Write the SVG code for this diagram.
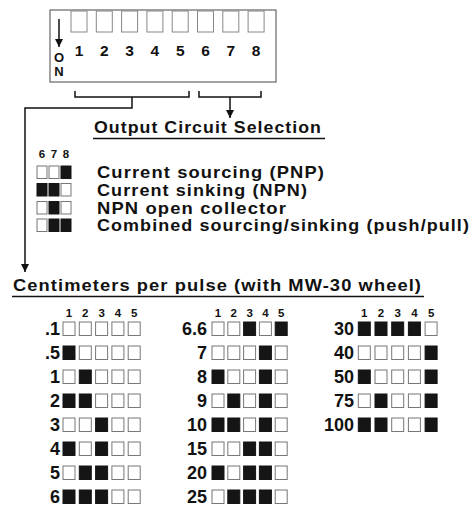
<svg xmlns="http://www.w3.org/2000/svg" width="476" height="511" viewBox="0 0 476 511">
<style>
text{font-family:"Liberation Sans",Arial,Helvetica,sans-serif;fill:#111}
.ln{stroke:#111;stroke-width:1.5;fill:none}
.sw{fill:#fff;stroke:#888;stroke-width:1}
.frame{fill:#fff;stroke:#666;stroke-width:1.2}
.on{fill:#151515;stroke:#151515;stroke-width:1}
.off{fill:#fff;stroke:#777;stroke-width:1}
.num{font-size:15.5px;font-weight:bold}
.on-lbl{font-size:13px;font-weight:bold;text-anchor:middle}
.title{font-size:17px;font-weight:bold;letter-spacing:1px}
.opt{font-size:16.5px;font-weight:bold;letter-spacing:1px}
.hdr{font-size:11.5px;font-weight:bold;text-anchor:middle}
.val{font-size:18px;font-weight:bold;text-anchor:end}
</style>
<defs>
<marker id="ah" viewBox="0 0 10 10" refX="10" refY="5" markerWidth="9" markerHeight="8" markerUnits="userSpaceOnUse" orient="auto">
<path d="M0,0 L10,5 L0,10 z" fill="#111"/>
</marker>
</defs>

<g id="dip-switch">
<rect class="frame" x="50" y="10" width="226" height="72"/>
<rect class="sw" x="71" y="11" width="16" height="21"/>
<rect class="sw" x="96.3" y="11" width="16" height="21"/>
<rect class="sw" x="121.6" y="11" width="16" height="21"/>
<rect class="sw" x="146.9" y="11" width="16" height="21"/>
<rect class="sw" x="172.2" y="11" width="16" height="21"/>
<rect class="sw" x="197.5" y="11" width="16" height="21"/>
<rect class="sw" x="222.8" y="11" width="16" height="21"/>
<rect class="sw" x="248.1" y="11" width="16" height="21"/>
<g class="num" text-anchor="middle">
<text x="79" y="56">1</text>
<text x="104.3" y="56">2</text>
<text x="129.6" y="56">3</text>
<text x="154.9" y="56">4</text>
<text x="180.2" y="56">5</text>
<text x="205.5" y="56">6</text>
<text x="230.8" y="56">7</text>
<text x="256.1" y="56">8</text>
</g>
<line class="ln" x1="59" y1="19" x2="59" y2="47" marker-end="url(#ah)"/>
<text class="on-lbl" x="59" y="62">O</text>
<text class="on-lbl" x="59" y="76">N</text>
</g>

<g id="connectors">
<path class="ln" d="M75,91 V97 H189 V91"/>
<path class="ln" d="M132,97 V108 H25 V272" marker-end="url(#ah)"/>
<path class="ln" d="M199,91 V97 H261 V91"/>
<path class="ln" d="M230,97 V118" marker-end="url(#ah)"/>
</g>

<g id="output-title">
<text class="title" x="94" y="133" textLength="228" lengthAdjust="spacingAndGlyphs">Output Circuit Selection</text>
<line class="ln" x1="93" y1="138.5" x2="325" y2="138.5" stroke-width="1.2"/>
</g>

<g id="output-options">
<text class="hdr" x="42" y="157.5">6</text>
<text class="hdr" x="54" y="157.5">7</text>
<text class="hdr" x="66" y="157.5">8</text>
<rect class="off" x="37" y="166" width="10" height="12.5"/><rect class="off" x="49" y="166" width="10" height="12.5"/><rect class="on" x="61" y="166" width="10" height="12.5"/>
<text class="opt" x="97" y="178" textLength="228" lengthAdjust="spacingAndGlyphs">Current sourcing (PNP)</text>
<rect class="on" x="37" y="183.5" width="10" height="12.5"/><rect class="on" x="49" y="183.5" width="10" height="12.5"/><rect class="off" x="61" y="183.5" width="10" height="12.5"/>
<text class="opt" x="97" y="195.5" textLength="211" lengthAdjust="spacingAndGlyphs">Current sinking (NPN)</text>
<rect class="off" x="37" y="201.5" width="10" height="12.5"/><rect class="on" x="49" y="201.5" width="10" height="12.5"/><rect class="off" x="61" y="201.5" width="10" height="12.5"/>
<text class="opt" x="97" y="213.5" textLength="190" lengthAdjust="spacingAndGlyphs">NPN open collector</text>
<rect class="off" x="37" y="219" width="10" height="12.5"/><rect class="on" x="49" y="219" width="10" height="12.5"/><rect class="on" x="61" y="219" width="10" height="12.5"/>
<text class="opt" x="97" y="231" textLength="373" lengthAdjust="spacingAndGlyphs">Combined sourcing/sinking (push/pull)</text>
</g>

<g id="cm-title">
<text class="title" x="13" y="291" textLength="409" lengthAdjust="spacingAndGlyphs">Centimeters per pulse (with MW-30 wheel)</text>
<line class="ln" x1="12" y1="296.5" x2="424" y2="296.5" stroke-width="1.2"/>
</g>

<g id="table-1">
<text class="hdr" x="69" y="317">1</text><text class="hdr" x="85.3" y="317">2</text><text class="hdr" x="101.6" y="317">3</text><text class="hdr" x="117.9" y="317">4</text><text class="hdr" x="134.2" y="317">5</text>
<text class="val" x="60" y="335">.1</text>
<rect class="off" x="63" y="322" width="12" height="13.5"/><rect class="off" x="79.3" y="322" width="12" height="13.5"/><rect class="off" x="95.6" y="322" width="12" height="13.5"/><rect class="off" x="111.9" y="322" width="12" height="13.5"/><rect class="off" x="128.2" y="322" width="12" height="13.5"/>
<text class="val" x="60" y="359">.5</text>
<rect class="on" x="63" y="346" width="12" height="13.5"/><rect class="off" x="79.3" y="346" width="12" height="13.5"/><rect class="off" x="95.6" y="346" width="12" height="13.5"/><rect class="off" x="111.9" y="346" width="12" height="13.5"/><rect class="off" x="128.2" y="346" width="12" height="13.5"/>
<text class="val" x="60" y="383">1</text>
<rect class="off" x="63" y="370" width="12" height="13.5"/><rect class="on" x="79.3" y="370" width="12" height="13.5"/><rect class="off" x="95.6" y="370" width="12" height="13.5"/><rect class="off" x="111.9" y="370" width="12" height="13.5"/><rect class="off" x="128.2" y="370" width="12" height="13.5"/>
<text class="val" x="60" y="407">2</text>
<rect class="on" x="63" y="394" width="12" height="13.5"/><rect class="on" x="79.3" y="394" width="12" height="13.5"/><rect class="off" x="95.6" y="394" width="12" height="13.5"/><rect class="off" x="111.9" y="394" width="12" height="13.5"/><rect class="off" x="128.2" y="394" width="12" height="13.5"/>
<text class="val" x="60" y="431">3</text>
<rect class="off" x="63" y="418" width="12" height="13.5"/><rect class="off" x="79.3" y="418" width="12" height="13.5"/><rect class="on" x="95.6" y="418" width="12" height="13.5"/><rect class="off" x="111.9" y="418" width="12" height="13.5"/><rect class="off" x="128.2" y="418" width="12" height="13.5"/>
<text class="val" x="60" y="455">4</text>
<rect class="on" x="63" y="442" width="12" height="13.5"/><rect class="off" x="79.3" y="442" width="12" height="13.5"/><rect class="on" x="95.6" y="442" width="12" height="13.5"/><rect class="off" x="111.9" y="442" width="12" height="13.5"/><rect class="off" x="128.2" y="442" width="12" height="13.5"/>
<text class="val" x="60" y="479">5</text>
<rect class="off" x="63" y="466" width="12" height="13.5"/><rect class="on" x="79.3" y="466" width="12" height="13.5"/><rect class="on" x="95.6" y="466" width="12" height="13.5"/><rect class="off" x="111.9" y="466" width="12" height="13.5"/><rect class="off" x="128.2" y="466" width="12" height="13.5"/>
<text class="val" x="60" y="503">6</text>
<rect class="on" x="63" y="490" width="12" height="13.5"/><rect class="on" x="79.3" y="490" width="12" height="13.5"/><rect class="on" x="95.6" y="490" width="12" height="13.5"/><rect class="off" x="111.9" y="490" width="12" height="13.5"/><rect class="off" x="128.2" y="490" width="12" height="13.5"/>
</g>

<g id="table-2">
<text class="hdr" x="218" y="317">1</text><text class="hdr" x="233.8" y="317">2</text><text class="hdr" x="249.6" y="317">3</text><text class="hdr" x="265.4" y="317">4</text><text class="hdr" x="281.2" y="317">5</text>
<text class="val" x="207" y="335">6.6</text>
<rect class="off" x="212" y="322" width="12" height="13.5"/><rect class="off" x="227.8" y="322" width="12" height="13.5"/><rect class="on" x="243.6" y="322" width="12" height="13.5"/><rect class="off" x="259.4" y="322" width="12" height="13.5"/><rect class="on" x="275.2" y="322" width="12" height="13.5"/>
<text class="val" x="207" y="359">7</text>
<rect class="off" x="212" y="346" width="12" height="13.5"/><rect class="off" x="227.8" y="346" width="12" height="13.5"/><rect class="off" x="243.6" y="346" width="12" height="13.5"/><rect class="on" x="259.4" y="346" width="12" height="13.5"/><rect class="off" x="275.2" y="346" width="12" height="13.5"/>
<text class="val" x="207" y="383">8</text>
<rect class="on" x="212" y="370" width="12" height="13.5"/><rect class="off" x="227.8" y="370" width="12" height="13.5"/><rect class="off" x="243.6" y="370" width="12" height="13.5"/><rect class="on" x="259.4" y="370" width="12" height="13.5"/><rect class="off" x="275.2" y="370" width="12" height="13.5"/>
<text class="val" x="207" y="407">9</text>
<rect class="off" x="212" y="394" width="12" height="13.5"/><rect class="on" x="227.8" y="394" width="12" height="13.5"/><rect class="off" x="243.6" y="394" width="12" height="13.5"/><rect class="on" x="259.4" y="394" width="12" height="13.5"/><rect class="off" x="275.2" y="394" width="12" height="13.5"/>
<text class="val" x="207" y="431">10</text>
<rect class="on" x="212" y="418" width="12" height="13.5"/><rect class="on" x="227.8" y="418" width="12" height="13.5"/><rect class="off" x="243.6" y="418" width="12" height="13.5"/><rect class="on" x="259.4" y="418" width="12" height="13.5"/><rect class="off" x="275.2" y="418" width="12" height="13.5"/>
<text class="val" x="207" y="455">15</text>
<rect class="off" x="212" y="442" width="12" height="13.5"/><rect class="off" x="227.8" y="442" width="12" height="13.5"/><rect class="on" x="243.6" y="442" width="12" height="13.5"/><rect class="on" x="259.4" y="442" width="12" height="13.5"/><rect class="off" x="275.2" y="442" width="12" height="13.5"/>
<text class="val" x="207" y="479">20</text>
<rect class="on" x="212" y="466" width="12" height="13.5"/><rect class="off" x="227.8" y="466" width="12" height="13.5"/><rect class="on" x="243.6" y="466" width="12" height="13.5"/><rect class="on" x="259.4" y="466" width="12" height="13.5"/><rect class="off" x="275.2" y="466" width="12" height="13.5"/>
<text class="val" x="207" y="503">25</text>
<rect class="off" x="212" y="490" width="12" height="13.5"/><rect class="on" x="227.8" y="490" width="12" height="13.5"/><rect class="on" x="243.6" y="490" width="12" height="13.5"/><rect class="on" x="259.4" y="490" width="12" height="13.5"/><rect class="off" x="275.2" y="490" width="12" height="13.5"/>
</g>

<g id="table-3">
<text class="hdr" x="364.3" y="317">1</text><text class="hdr" x="381" y="317">2</text><text class="hdr" x="397.7" y="317">3</text><text class="hdr" x="414.4" y="317">4</text><text class="hdr" x="431.1" y="317">5</text>
<text class="val" x="354" y="335">30</text>
<rect class="on" x="358.3" y="322" width="12" height="13.5"/><rect class="on" x="375" y="322" width="12" height="13.5"/><rect class="on" x="391.7" y="322" width="12" height="13.5"/><rect class="on" x="408.4" y="322" width="12" height="13.5"/><rect class="off" x="425.1" y="322" width="12" height="13.5"/>
<text class="val" x="354" y="359">40</text>
<rect class="off" x="358.3" y="346" width="12" height="13.5"/><rect class="off" x="375" y="346" width="12" height="13.5"/><rect class="off" x="391.7" y="346" width="12" height="13.5"/><rect class="off" x="408.4" y="346" width="12" height="13.5"/><rect class="on" x="425.1" y="346" width="12" height="13.5"/>
<text class="val" x="354" y="383">50</text>
<rect class="on" x="358.3" y="370" width="12" height="13.5"/><rect class="off" x="375" y="370" width="12" height="13.5"/><rect class="off" x="391.7" y="370" width="12" height="13.5"/><rect class="off" x="408.4" y="370" width="12" height="13.5"/><rect class="on" x="425.1" y="370" width="12" height="13.5"/>
<text class="val" x="354" y="407">75</text>
<rect class="off" x="358.3" y="394" width="12" height="13.5"/><rect class="on" x="375" y="394" width="12" height="13.5"/><rect class="off" x="391.7" y="394" width="12" height="13.5"/><rect class="off" x="408.4" y="394" width="12" height="13.5"/><rect class="on" x="425.1" y="394" width="12" height="13.5"/>
<text class="val" x="354" y="431">100</text>
<rect class="on" x="358.3" y="418" width="12" height="13.5"/><rect class="on" x="375" y="418" width="12" height="13.5"/><rect class="off" x="391.7" y="418" width="12" height="13.5"/><rect class="off" x="408.4" y="418" width="12" height="13.5"/><rect class="on" x="425.1" y="418" width="12" height="13.5"/>
</g>
</svg>
